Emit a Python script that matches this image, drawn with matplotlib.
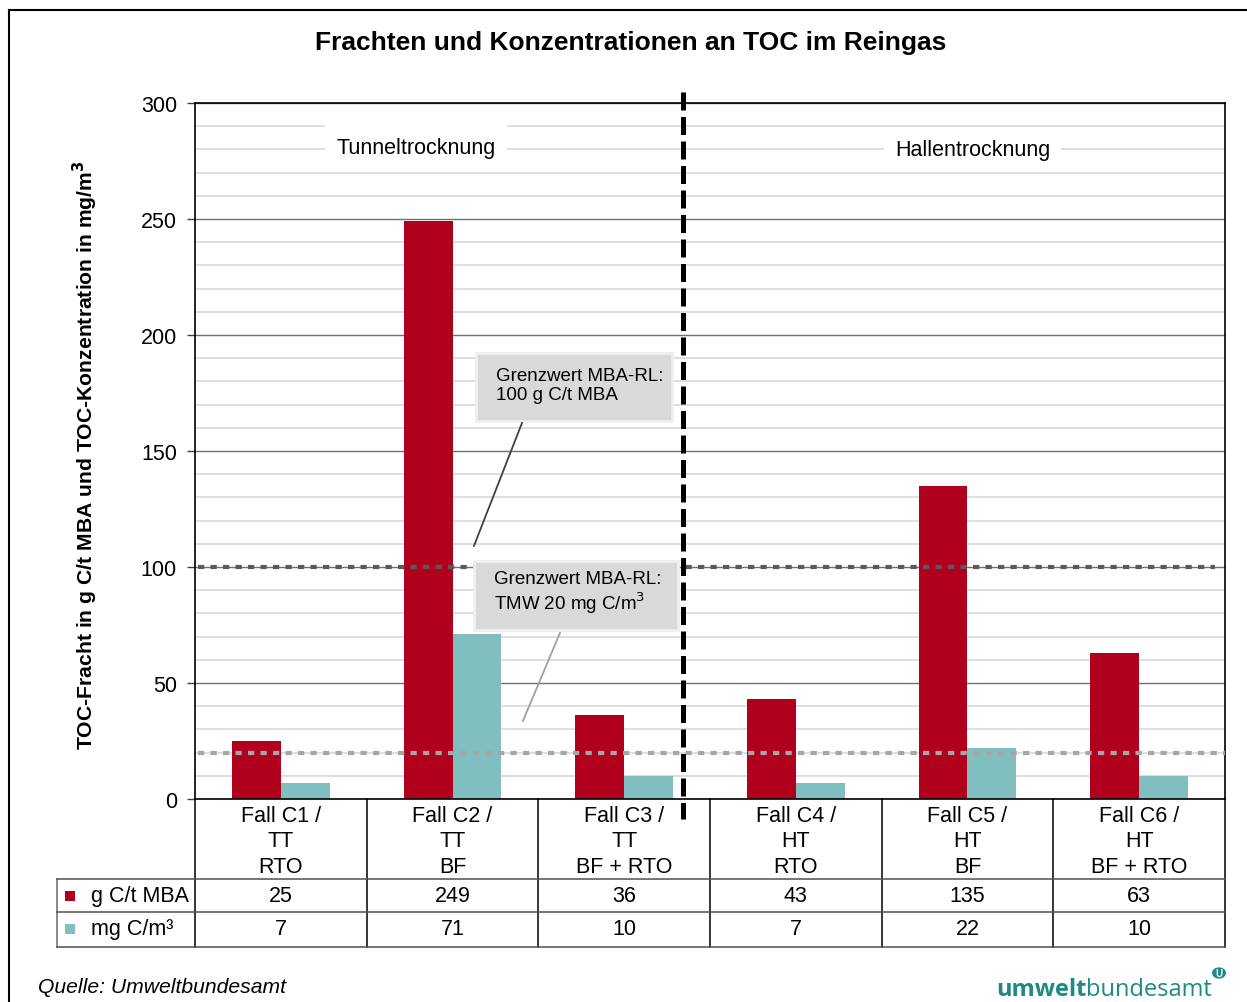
import numpy as np
import matplotlib
matplotlib.use("Agg")
import matplotlib.pyplot as plt
from matplotlib.patches import Rectangle, Circle
from matplotlib.lines import Line2D

plt.rcParams["font.family"] = ["Liberation Sans", "DejaVu Sans"]

# data
cases = ["Fall C1 /\nTT\nRTO", "Fall C2 /\nTT\nBF", "Fall C3 /\nTT\nBF + RTO",
         "Fall C4 /\nHT\nRTO", "Fall C5 /\nHT\nBF", "Fall C6 /\nHT\nBF + RTO"]
fracht = [25, 249, 36, 43, 135, 63]       # g C/t MBA
konz = [7, 71, 10, 7, 22, 10]             # mg C/m³
series_names = ["g C/t MBA", "mg C/m³"]
limit_fracht = 100
limit_konz = 20

RED = "#B0001E"
TEAL = "#80BEBF"
FS = 15.5

W, H = 1247, 1003
fig = plt.figure(figsize=(W / 100, H / 100), dpi=100)

def fx(px):
    return px / W

def fy(py):
    return 1 - py / H

ax = fig.add_axes([fx(195), fy(800), fx(1225) - fx(195), fy(104) - fy(800)])
n = len(cases)
x = np.arange(n)
bw = 0.285

ax.set_xlim(-0.5, n - 0.5)
ax.set_ylim(0, 300)

# grid
ax.set_yticks(np.arange(0, 301, 50))
ax.set_yticks(np.arange(0, 301, 10), minor=True)
ax.grid(axis="y", which="minor", color="#DCDCDC", lw=1.3, zorder=0)
ax.grid(axis="y", which="major", color="#707070", lw=1.0, zorder=0)
ax.set_axisbelow(True)
ax.tick_params(axis="y", which="major", length=6, width=1, labelsize=FS, pad=7, color="#404040")
ax.tick_params(axis="y", which="minor", length=0)
ax.set_xticks([])
for s in ax.spines.values():
    s.set_color("black")
    s.set_linewidth(1.2)

ax.bar(x - bw / 2, fracht, bw, color=RED, zorder=2)
ax.bar(x + bw / 2, konz, bw, color=TEAL, zorder=2)

# limit lines
ax.plot([-0.48, n - 0.56], [limit_fracht] * 2, color="#5A5A5A", lw=3.0,
        dashes=(1.5, 1.5), zorder=3)
ax.plot([-0.48, n - 0.5], [limit_konz] * 2, color="#A6A6A6", lw=3.0,
        dashes=(1.5, 1.5), zorder=3)

# separator
ax.plot([2.343, 2.343], [304.7, -8.6], color="black", lw=3.6, dashes=(3.6, 1.3),
        zorder=5, clip_on=False)

# group labels
ax.text(0.787, 281, "Tunneltrocknung", ha="center", va="center", fontsize=FS,
        bbox=dict(facecolor="white", edgecolor="none", pad=8), zorder=4)
ax.text(4.03, 280, "Hallentrocknung", ha="center", va="center", fontsize=FS,
        bbox=dict(facecolor="white", edgecolor="none", pad=8), zorder=4)

# callouts
ax.add_patch(Rectangle((1.137, 162.9), 2.279 - 1.137, 192.2 - 162.9, facecolor="#D9D9D9",
                       edgecolor="#EFEFEF", lw=2, zorder=6))
ax.text(1.253, 178.5, "Grenzwert MBA-RL:\n100 g C/t MBA", ha="left", va="center",
        fontsize=13.5, linespacing=1.15, zorder=7)
ax.plot([1.405, 1.125], [162.1, 109.1], color="#404040", lw=1.3, zorder=6)

ax.add_patch(Rectangle((1.125, 72.8), 2.313 - 1.125, 102.6 - 72.8, facecolor="#D9D9D9",
                       edgecolor="#EFEFEF", lw=2, zorder=6))
ax.text(1.242, 89.0, "Grenzwert MBA-RL:\nTMW 20 mg C/m$^3$", ha="left", va="center",
        fontsize=13.5, linespacing=1.1, zorder=7)
ax.plot([1.626, 1.41], [71.6, 33.6], color="#A0A0A0", lw=1.3, zorder=6)

# data table below the axes (axes-fraction y, data x)
tr = ax.get_xaxis_transform()
ah = 696.0
def ty(py):
    return (800 - py) / ah

left = (57 - 195) / (1225 - 195) * n - 0.5
for k in range(n + 1):
    ax.add_line(Line2D([k - 0.5, k - 0.5], [ty(800), ty(948)], transform=tr,
                       color="black", lw=1.1, clip_on=False))
ax.add_line(Line2D([left, left], [ty(880), ty(948)], transform=tr,
                   color="#808080", lw=1.3, clip_on=False))
for py in (880, 913, 948):
    ax.add_line(Line2D([left, n - 0.5], [ty(py), ty(py)], transform=tr,
                       color="#505050", lw=1.1, clip_on=False))

for i, lab in enumerate(cases):
    ax.text(i, ty(842), lab, transform=tr, ha="center", va="center", fontsize=FS,
            linespacing=1.27, clip_on=False)
    ax.text(i, ty(897), str(fracht[i]), transform=tr, ha="center", va="center",
            fontsize=FS, clip_on=False)
    ax.text(i, ty(930), str(konz[i]), transform=tr, ha="center", va="center",
            fontsize=FS, clip_on=False)

for py, name, col in ((897, series_names[0], RED), (930, series_names[1], TEAL)):
    fig.patches.append(Rectangle((fx(65), fy(py + 5)), fx(10), fy(0) - fy(10), facecolor=col,
                                 edgecolor="none", transform=fig.transFigure))
    fig.text(fx(91), fy(py), name, ha="left", va="center", fontsize=FS)

# titles
fig.text(fx(631), fy(43), "Frachten und Konzentrationen an TOC im Reingas", ha="center",
         va="center", fontsize=19, fontweight="bold")
fig.text(fx(85), fy(455), "TOC-Fracht in g C/t MBA und TOC-Konzentration in mg/m$^\\mathbf{3}$",
         ha="center", va="center", rotation=90, fontsize=15.2, fontweight="bold")

# footer
fig.text(fx(38), fy(988), "Quelle: Umweltbundesamt", ha="left", va="center", fontsize=15.2,
         style="italic")
LOGO = "#1D8A86"
t1 = fig.text(fx(996), fy(996), "umwelt", ha="left", va="baseline", fontsize=17,
              fontweight="bold", color=LOGO, family="Open Sans")
fig.canvas.draw()
bb = t1.get_window_extent()
fig.text(bb.x1 / W, fy(996), "bundesamt", ha="left", va="baseline", fontsize=17,
         color=LOGO, family="Open Sans")
fig.patches.append(Circle((fx(1219), fy(974)), 7 / W, transform=fig.transFigure,
                          facecolor=LOGO, edgecolor="none"))
fig.text(fx(1219), fy(974), "U", ha="center", va="center", fontsize=7, color="white",
         fontweight="bold")

# outer frame
fig.add_artist(Line2D([fx(9), fx(9)], [fy(11), 0], transform=fig.transFigure,
                      color="black", lw=1.5))
fig.add_artist(Line2D([fx(9), 1], [fy(11), fy(11)], transform=fig.transFigure,
                      color="black", lw=1.5))

fig.savefig("out.png", dpi=100)
